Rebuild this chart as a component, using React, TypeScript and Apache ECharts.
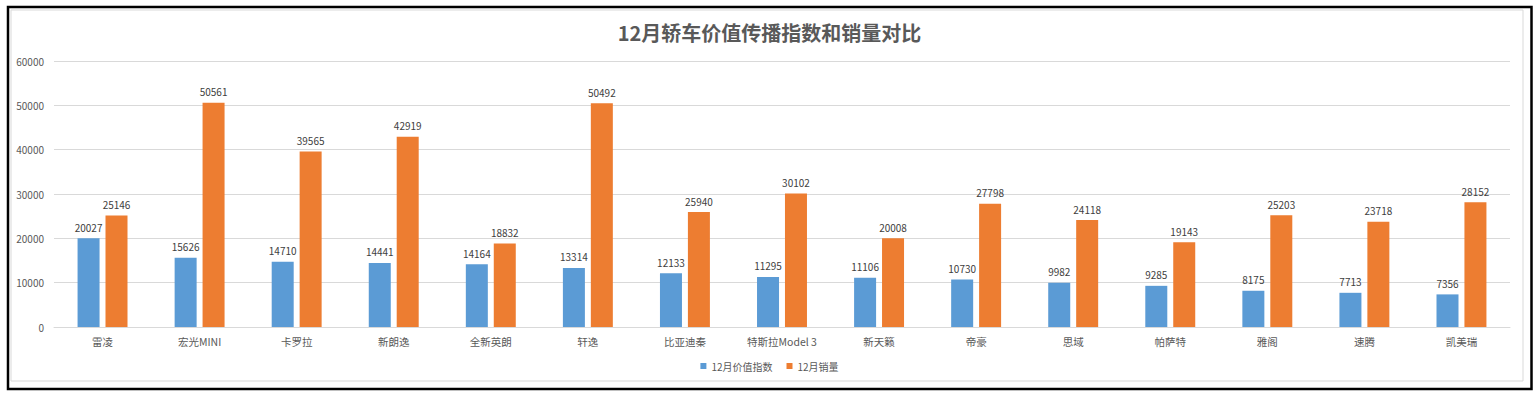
import React, { useEffect, useRef } from "react";
import * as echarts from "echarts";

const categories = ["雷凌", "宏光MINI", "卡罗拉", "新朗逸", "全新英朗", "轩逸", "比亚迪秦", "特斯拉Model 3", "新天籁", "帝豪", "思域", "帕萨特", "雅阁", "速腾", "凯美瑞"];
const valueIndex = [20027, 15626, 14710, 14441, 14164, 13314, 12133, 11295, 11106, 10730, 9982, 9285, 8175, 7713, 7356];
const sales = [25146, 50561, 39565, 42919, 18832, 50492, 25940, 30102, 20008, 27798, 24118, 19143, 25203, 23718, 28152];
const seriesNames = ["12月价值指数", "12月销量"];
const title = "12月轿车价值传播指数和销量对比";

const FONT = "'Noto Sans CJK SC', 'Microsoft YaHei', sans-serif";

export default function App() {
  const ref = useRef<HTMLDivElement>(null);
  useEffect(() => {
    const chart = echarts.init(ref.current!, null, { renderer: "svg" });
    const label = {
      show: true,
      position: "top",
      distance: 6,
      color: "#404040",
      fontSize: 10,
      fontFamily: FONT,
    };
    chart.setOption({
      animation: false,
      backgroundColor: "#fff",
      textStyle: { fontFamily: FONT },
      title: {
        text: title,
        left: "center",
        top: 17,
        textStyle: { fontSize: 20, fontWeight: "bold", color: "#595959", fontFamily: FONT },
      },
      legend: {
        bottom: 22,
        left: "center",
        itemWidth: 6,
        itemHeight: 6,
        itemGap: 14,
        icon: "rect",
        textStyle: { fontSize: 10, color: "#595959", fontFamily: FONT },
        data: seriesNames,
      },
      grid: { left: 54, right: 29, top: 61, bottom: 71, containLabel: false },
      xAxis: {
        type: "category",
        data: categories,
        axisLine: { lineStyle: { color: "#d9d9d9" } },
        axisTick: { show: false },
        axisLabel: { color: "#595959", fontSize: 10.5, margin: 9, fontFamily: FONT },
      },
      yAxis: {
        type: "value",
        min: 0,
        max: 60000,
        interval: 10000,
        axisLine: { show: false },
        axisTick: { show: false },
        axisLabel: {
          color: "#595959",
          fontSize: 10,
          margin: 10,
          fontFamily: FONT,
          formatter: (v: number) => String(v),
        },
        splitLine: { lineStyle: { color: "#d9d9d9" } },
      },
      series: [
        {
          name: seriesNames[0],
          type: "bar",
          data: valueIndex,
          barWidth: 22,
          barGap: "27%",
          itemStyle: { color: "#5B9BD5" },
          label,
        },
        {
          name: seriesNames[1],
          type: "bar",
          data: sales,
          barWidth: 22,
          barGap: "27%",
          itemStyle: { color: "#ED7D31" },
          label,
        },
      ],
      graphic: [
        {
          type: "rect",
          shape: { x: 11, y: 10, width: 1512, height: 371 },
          style: { fill: "none", stroke: "#d9d9d9", lineWidth: 1 },
          silent: true,
        },
        {
          type: "rect",
          shape: { x: 8, y: 7, width: 1523.5, height: 382 },
          style: { fill: "none", stroke: "#000", lineWidth: 2.5 },
          silent: true,
        },
      ],
    });
    return () => chart.dispose();
  }, []);
  return (
    <div
      ref={ref}
      style={{ position: "absolute", left: 0, top: 0, width: 1539, height: 398 }}
    />
  );
}
